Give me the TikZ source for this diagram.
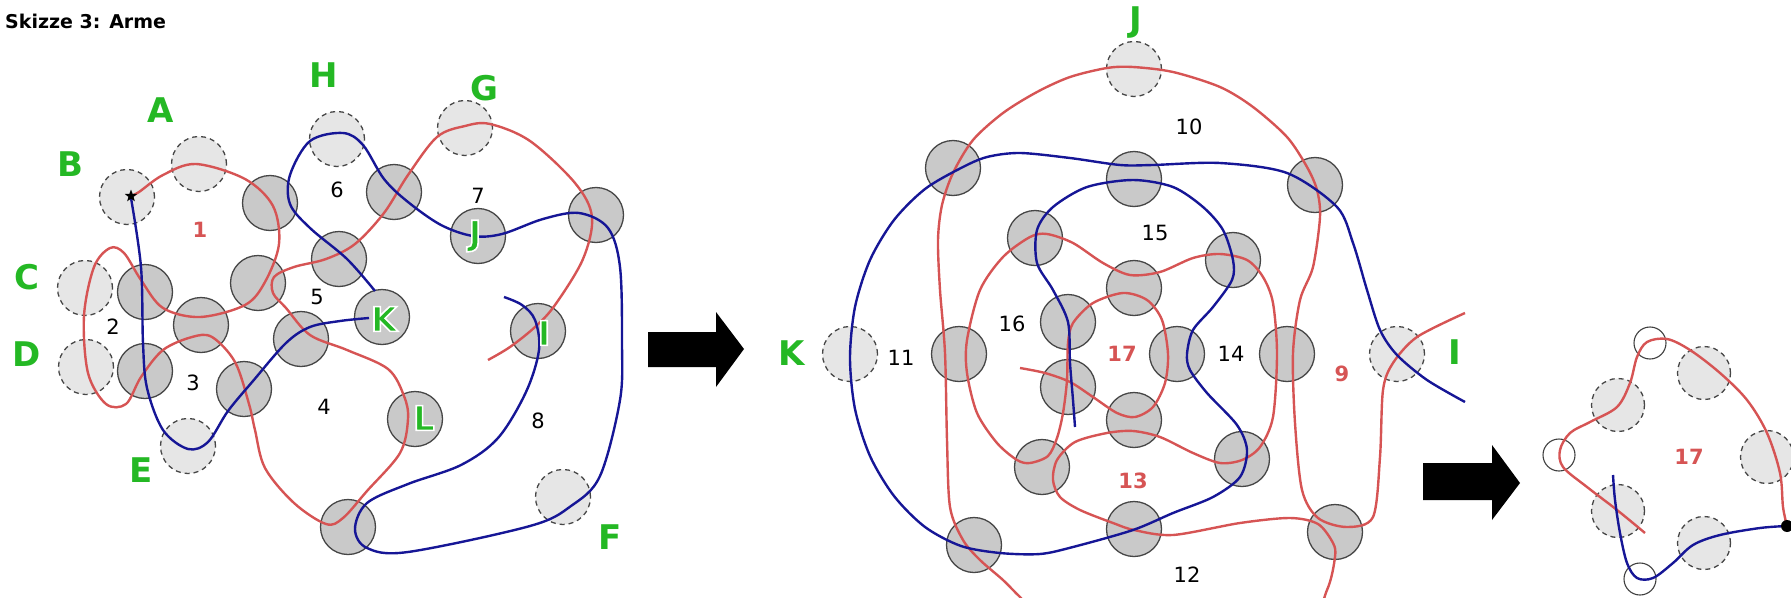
\documentclass[tikz,border=0pt]{standalone}
\usepackage{fontspec}
\setmainfont{DejaVu Sans}
\usetikzlibrary{shapes.geometric,calc}
\definecolor{redc}{RGB}{214,84,84}
\definecolor{bluec}{RGB}{22,22,150}
\definecolor{greenc}{RGB}{36,184,36}
\definecolor{cfill}{RGB}{201,201,201}
\definecolor{dfill}{RGB}{230,230,230}
\definecolor{cline}{RGB}{70,70,70}
\newcommand{\outlined}[1]{\special{pdf:code q 1 1 1 RG 1.6 w 2 Tr}#1\special{pdf:code Q}}
\begin{document}
\begin{tikzpicture}[x=1pt,y=-1pt,
 sc/.style={circle, draw=cline, fill=cfill, line width=1.3pt, minimum size=55pt, inner sep=0pt},
 dc/.style={sc, fill=dfill, dash pattern=on 5pt off 4pt},
 oc/.style={circle, draw=black!75, line width=1.1pt, minimum size=32pt, inner sep=0pt},
 rl/.style={draw=redc, line width=2.4pt},
 bl/.style={draw=bluec, line width=2.4pt},
 lab/.style={text=greenc, font=\fontsize{34}{36}\bfseries\selectfont, inner sep=0pt},
 num/.style={font=\fontsize{21}{24}\selectfont, inner sep=0pt},
 rnum/.style={text=redc, font=\fontsize{21}{24}\bfseries\selectfont, inner sep=0pt},
 arrowblk/.style={fill=black}]
\useasboundingbox (0,0) rectangle (1791,597);

% title
\node[anchor=west, inner sep=0pt, font=\fontsize{19}{22}\bfseries\selectfont] (title) at (5,21) {Skizze 3: Arme};

% ---------------- left diagram ----------------
\foreach \n/\x/\y in {lA/199/164, lB/127/197, lC/85/288, lD/86/367, lE/188/446, lH/337/139, lG/465/128, lF/563/497}
  \node[dc] (\n) at (\x,\y) {};
\foreach \n/\x/\y in {l1/270/203, l2/394/192, l3/339/259, l4/258/283, l5/145/292, l6/201/325, l7/145/371, l8/244/389, l9/301/339, lK/382/317, lJ/478/236, l10/596/215, lI/538/331, lL/415/419, l11/348/527}
  \node[sc] (\n) at (\x,\y) {};

\draw[rl] plot[smooth, tension=0.55] coordinates {(131,196) (139,192) (163,175) (196,164) (245,179) (273,206) (279,244) (265,282) (245,305) (200,317) (163,308) (141,280) (124,253) (110,248) (94,267) (84,316) (88,373) (106,404) (126,404) (141,377) (163,350) (192,337) (212,337) (235,362) (249,404) (255,430) (265,468) (294,503) (326,524) (343,518) (367,491) (400,453) (408,419) (404,396) (388,369) (347,350) (310,335) (286,308) (273,293) (274,277) (294,267) (326,259) (355,244) (384,213) (408,175) (437,137) (465,126) (490,124) (530,141) (575,183) (592,217) (583,259) (555,305) (535,327) (510,347) (488,360)};

\draw[bl] plot[smooth, tension=0.55] coordinates {(131,198) (141,267) (143,343) (147,388) (163,430) (188,449) (208,442) (228,411) (253,381) (286,343) (310,327) (340,321) (369,318)};

\draw[bl] plot[smooth, tension=0.55] coordinates {(375,291) (347,259) (310,228) (290,204) (290,175) (310,141) (343,133) (363,145) (384,179) (408,202) (441,225) (473,236) (502,234) (543,219) (579,213) (608,228) (620,267) (622,343) (620,400) (600,476) (571,506) (530,526) (408,552) (367,548) (355,529) (367,503) (408,484) (461,465) (498,438) (526,392) (539,350) (535,320) (522,305) (504,297)};

\node[star, star points=5, star point ratio=2.4, fill=black, inner sep=0pt, minimum size=13pt] (star) at (131,196) {};

\foreach \n/\t/\x/\y in {gA/A/161/110, gB/B/70/164, gC/C/27/277, gD/D/27/354, gE/E/141/470, gH/H/324/75, gG/G/484/88, gF/F/610/537}
  \node[lab] (\n) at (\x,\y) {\t};
\foreach \n/\t/\x/\y in {gJ/J/475/236, gK/K/384/319, gI/I/544/333, gL/L/424/418}
  \node[lab] (\n) at (\x,\y) {\outlined{\t}};

\node[rnum] (n1) at (200,230) {1};
\foreach \n/\t/\x/\y in {n2/2/113/327, n3/3/193/383, n4/4/324/407, n5/5/317/297, n6/6/337/190, n7/7/478/196, n8/8/538/421}
  \node[num] (\n) at (\x,\y) {\t};

% arrow 1
\fill[arrowblk] (648,332) -- (716,332) -- (716,312) -- (744,349) -- (716,387) -- (716,367) -- (648,367) -- cycle;

% ---------------- middle diagram ----------------
\foreach \n/\x/\y in {mJ/1134/69, mK/850/354, mI/1397/354}
  \node[dc] (\n) at (\x,\y) {};
\foreach \n/\x/\y in {m1/953/168, m2/1134/179, m17/1315/185, m3/1035/238, m4/1233/260, m5/1134/288, m6/1068/322, m8/959/354, m7/1177/354, m16/1287/354, m9/1068/387, m10/1134/420, m11/1242/459, m12/1042/467, m13/974/545, m14/1134/529, m15/1335/532}
  \node[sc] (\n) at (\x,\y) {};

\begin{scope}
\clip (0,0) rectangle (1791,597);
\draw[rl] plot[smooth, tension=0.5] coordinates {(1020,368) (1045,373) (1070,382) (1093,397) (1117,413) (1135,417) (1153,407) (1165,383) (1168,354) (1162,320) (1147,300) (1123,293) (1093,303) (1073,323) (1068,343) (1067,380) (1063,413) (1057,438) (1048,456) (1030,463) (1017,460) (997,443) (977,413) (967,373) (967,340) (980,290) (1003,257) (1030,237) (1047,234) (1073,243) (1103,263) (1130,275) (1160,272) (1193,258) (1220,254) (1247,260) (1263,277) (1273,303) (1277,354) (1273,417) (1260,447) (1242,460) (1220,463) (1193,453) (1160,437) (1133,431) (1107,433) (1075,442) (1057,460) (1053,480) (1060,497) (1080,510) (1113,523) (1134,530) (1173,535) (1240,523) (1290,518) (1318,524) (1333,543) (1335,557) (1327,590) (1300,635) (1180,660) (1060,635) (1020,597) (1003,580) (980,560) (963,540) (950,507) (947,440) (945,353) (940,290) (938,240) (942,205) (953,173) (973,140) (1003,113) (1037,92) (1070,77) (1107,68) (1133,67) (1173,72) (1220,87) (1253,107) (1287,137) (1307,167) (1317,190) (1320,217) (1313,267) (1300,300) (1293,353) (1295,423) (1302,490) (1318,518) (1347,527) (1373,517) (1380,457) (1383,390) (1393,363) (1417,337) (1465,313)};
\end{scope}

\draw[bl] plot[smooth, tension=0.5] coordinates {(1465,402) (1427,380) (1397,355) (1380,330) (1367,290) (1353,243) (1337,207) (1287,173) (1220,163) (1153,165) (1120,165) (1070,158) (1020,153) (987,157) (961,168) (925,189) (894,220) (870,260) (855,307) (850,358) (855,409) (870,456) (894,496) (925,527) (961,546) (1000,553) (1040,554) (1073,547) (1133,530) (1173,513) (1213,497) (1240,477) (1247,450) (1237,425) (1207,393) (1190,370) (1187,354) (1193,330) (1213,307) (1232,280) (1233,260) (1223,230) (1203,207) (1173,187) (1133,180) (1087,187) (1053,207) (1037,230) (1037,263) (1053,290) (1068,322) (1070,363) (1073,400) (1075,427)};

\node[lab] (mgJ) at (1136,23) {J};
\node[lab] (mgK) at (792,353) {K};
\node[lab] (mgI) at (1455,352) {I};
\foreach \n/\t/\x/\y in {n10/10/1189/127, n15/15/1155/233, n16/16/1012/324, n11/11/901/358, n14/14/1231/354, n12/12/1187/575}
  \node[num] (\n) at (\x,\y) {\t};
\foreach \n/\t/\x/\y in {n17/17/1122/354, n9/9/1342/374, n13/13/1133/481}
  \node[rnum] (\n) at (\x,\y) {\t};

% arrow 2
\fill[arrowblk] (1423,463) -- (1492,463) -- (1492,445) -- (1520,483) -- (1492,520) -- (1492,500) -- (1423,500) -- cycle;

% ---------------- right diagram ----------------
\foreach \n/\x/\y in {r1/1618/405, r2/1704/373, r3/1767/457, r4/1618/511, r5/1704/543}
  \node[dc, minimum size=53pt] (\n) at (\x,\y) {};
\foreach \n/\x/\y in {o1/1650/343, o2/1559/455, o3/1640/579}
  \node[oc] (\n) at (\x,\y) {};
\draw[rl] plot[smooth, tension=0.55] coordinates {(1787,526) (1783,507) (1780,473) (1767,433) (1747,400) (1720,373) (1690,350) (1667,339) (1647,342) (1637,357) (1630,383) (1617,407) (1590,422) (1570,433) (1560,450) (1563,467) (1587,487) (1617,510) (1645,533)};
\draw[bl] plot[smooth, tension=0.55] coordinates {(1787,526) (1760,528) (1720,535) (1693,545) (1673,563) (1653,578) (1637,578) (1627,563) (1620,533) (1615,500) (1613,475)};
\node[circle, fill=black, minimum size=12pt, inner sep=0pt] (dot) at (1787,526) {};
\node[rnum] (r17) at (1689,457) {17};
\end{tikzpicture}
\end{document}
